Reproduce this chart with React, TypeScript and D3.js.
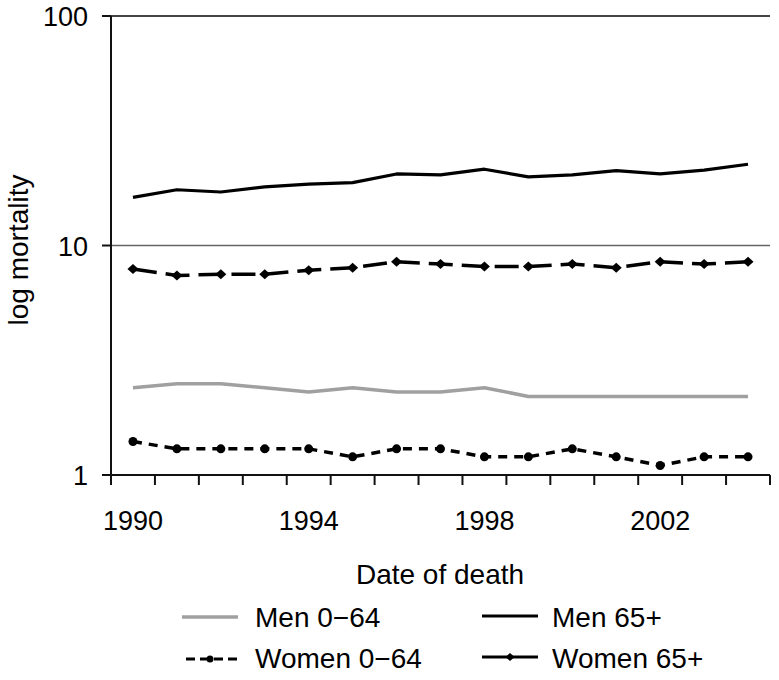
import React from "react";
import * as d3 from "d3";

const years = [1990, 1991, 1992, 1993, 1994, 1995, 1996, 1997, 1998, 1999, 2000, 2001, 2002, 2003, 2004];
const men0_64 = [2.4, 2.5, 2.5, 2.4, 2.3, 2.4, 2.3, 2.3, 2.4, 2.2, 2.2, 2.2, 2.2, 2.2, 2.2];
const men65 = [16.2, 17.5, 17.1, 18.0, 18.5, 18.8, 20.5, 20.3, 21.5, 19.9, 20.3, 21.2, 20.5, 21.3, 22.6];
const women0_64 = [1.4, 1.3, 1.3, 1.3, 1.3, 1.2, 1.3, 1.3, 1.2, 1.2, 1.3, 1.2, 1.1, 1.2, 1.2];
const women65 = [7.9, 7.4, 7.5, 7.5, 7.8, 8.0, 8.5, 8.3, 8.1, 8.1, 8.3, 8.0, 8.5, 8.3, 8.5];
const yTicks = [1, 10, 100];
const xLabelYears = [1990, 1994, 1998, 2002];

const W = 779;
const H = 680;
const left = 111;
const right = 770;
const top = 16;
const bottom = 475;
const FONT = "'Liberation Sans', Arial, Helvetica, sans-serif";

export default function App() {
  const x = d3.scaleBand<number>().domain(years).range([left, right]).padding(0);
  const cx = (yr: number) => (x(yr) as number) + x.bandwidth() / 2;
  const y = d3.scaleLog().domain([1, 100]).range([bottom, top]);

  const line = d3
    .line<number>()
    .x((_, i) => cx(years[i]))
    .y((d) => y(d));

  const boundaries = years.map((yr) => x(yr) as number).concat([right]);
  const diamond = "M0,-5L5.5,0L0,5L-5.5,0Z";
  const circle = d3.symbol(d3.symbolCircle, Math.PI * 4.5 * 4.5)() as string;
  const smallDiamond = "M0,-4L4.5,0L0,4L-4.5,0Z";
  const smallCircle = d3.symbol(d3.symbolCircle, Math.PI * 3.5 * 3.5)() as string;

  return (
    <svg
      width={W}
      height={H}
      style={{ position: "absolute", left: 0, top: 0, display: "block", background: "#fff" }}
      fontFamily={FONT}
    >
      {/* gridlines */}
      <line x1={left} x2={right} y1={y(100)} y2={y(100)} stroke="#444" strokeWidth={2} />
      <line x1={left} x2={right} y1={y(10)} y2={y(10)} stroke="#666" strokeWidth={1.6} />

      {/* y axis */}
      <line x1={left} x2={left} y1={top} y2={bottom + 10} stroke="#111" strokeWidth={2} />
      {yTicks.map((t) => (
        <g key={t}>
          <line x1={left - 9} x2={left} y1={y(t)} y2={y(t)} stroke="#111" strokeWidth={2} />
          <text x={88} y={y(t) + 10} textAnchor="end" fontSize={27} fill="#000">
            {t}
          </text>
        </g>
      ))}

      {/* x axis */}
      <line x1={left - 9} x2={right} y1={bottom} y2={bottom} stroke="#111" strokeWidth={2} />
      {boundaries.map((bx, i) => (
        <line key={i} x1={bx} x2={bx} y1={bottom} y2={bottom + 10} stroke="#111" strokeWidth={2} />
      ))}
      {xLabelYears.map((yr) => (
        <text key={yr} x={cx(yr)} y={530} textAnchor="middle" fontSize={27} fill="#000">
          {yr}
        </text>
      ))}

      {/* axis titles */}
      <text x={440} y={584} textAnchor="middle" fontSize={28} fill="#000">
        Date of death
      </text>
      <text
        transform={`translate(28,250) rotate(-90)`}
        textAnchor="middle"
        fontSize={28}
        fill="#000"
      >
        log mortality
      </text>

      {/* series */}
      <path d={line(men0_64) as string} fill="none" stroke="#a0a0a0" strokeWidth={3.5} strokeLinejoin="round" />
      <path d={line(men65) as string} fill="none" stroke="#000" strokeWidth={3.2} strokeLinejoin="round" />
      <path
        d={line(women65) as string}
        fill="none"
        stroke="#000"
        strokeWidth={3.5}
        strokeDasharray="24 9"
        strokeLinejoin="round"
      />
      {women65.map((v, i) => (
        <path key={"w65" + i} d={diamond} transform={`translate(${cx(years[i])},${y(v)})`} fill="#000" />
      ))}
      <path
        d={line(women0_64) as string}
        fill="none"
        stroke="#000"
        strokeWidth={3.5}
        strokeDasharray="9 7"
        strokeLinejoin="round"
      />
      {women0_64.map((v, i) => (
        <path key={"w0" + i} d={circle} transform={`translate(${cx(years[i])},${y(v)})`} fill="#000" />
      ))}

      {/* legend */}
      <line x1={182} x2={238} y1={617} y2={617} stroke="#a0a0a0" strokeWidth={3.5} />
      <text x={255} y={627} fontSize={28} fill="#000">Men 0−64</text>
      <line x1={482} x2={538} y1={616} y2={616} stroke="#000" strokeWidth={3.2} />
      <text x={552} y={627} fontSize={28} fill="#000">Men 65+</text>
      <line x1={186} x2={238} y1={659} y2={659} stroke="#000" strokeWidth={3} strokeDasharray="9 5" />
      <path d={smallCircle} transform="translate(210,659)" fill="#000" />
      <text x={255} y={668} fontSize={28} fill="#000">Women 0−64</text>
      <line x1={482} x2={538} y1={657} y2={657} stroke="#000" strokeWidth={3.2} />
      <path d={smallDiamond} transform="translate(510,657)" fill="#000" />
      <text x={552} y={668} fontSize={28} fill="#000">Women 65+</text>
    </svg>
  );
}
